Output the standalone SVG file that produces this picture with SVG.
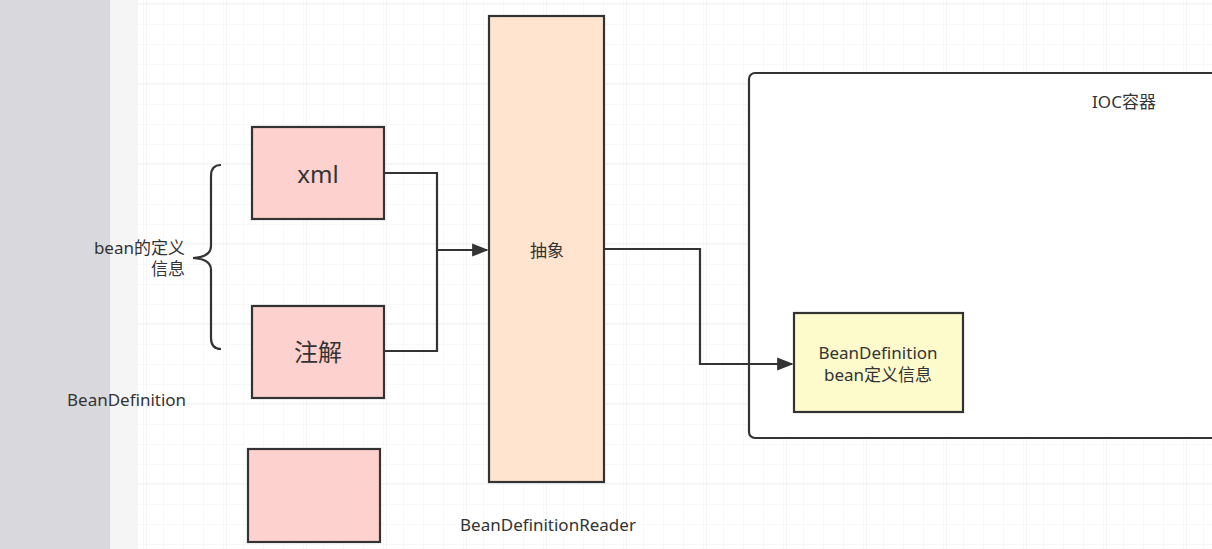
<svg xmlns="http://www.w3.org/2000/svg" width="1212" height="549" viewBox="0 0 1212 549">
  <style>
    .t { font-family: "Noto Sans", "Noto Sans CJK SC", sans-serif; fill: #333333; font-size: 17px; }
    .big { font-size: 24px; }
    .box { stroke: #333333; stroke-width: 2.2; }
    .edge { fill: none; stroke: #333333; stroke-width: 2.2; }
  </style>
  <defs>
    <pattern id="minor" x="4" y="5" width="20" height="20" patternUnits="userSpaceOnUse">
      <path d="M20 0 V20 M0 20 H20" fill="none" stroke="#f1f1f1" stroke-width="1"/>
    </pattern>
    <pattern id="major" x="67" y="4" width="80" height="80" patternUnits="userSpaceOnUse">
      <path d="M80 0 V80 M0 80 H80" fill="none" stroke="#e9e9e9" stroke-width="1"/>
    </pattern>
    <marker id="arrow" viewBox="0 0 10 10" refX="9" refY="5" markerWidth="7.5" markerHeight="7.5" markerUnits="strokeWidth" orient="auto">
      <path d="M0 1 L10 5 L0 9 Z" fill="#333333"/>
    </marker>
  </defs>

  <!-- background -->
  <rect x="0" y="0" width="1212" height="549" fill="#ffffff"/>
  <rect x="138" y="0" width="1074" height="549" fill="url(#minor)"/>
  <rect x="138" y="0" width="1074" height="549" fill="url(#major)"/>
  <rect x="0" y="0" width="110" height="549" fill="#d9d9dd"/>
  <rect x="110" y="0" width="28" height="549" fill="#f5f5f6"/>

  <!-- IOC container -->
  <g id="ioc">
    <rect x="749" y="73" width="480" height="365" rx="6" fill="#ffffff" class="box"/>
    <text class="t" x="1124" y="108" text-anchor="middle">IOC容器</text>
  </g>

  <!-- brace + labels -->
  <g id="brace">
    <path d="M221 165 Q211 165 211 176 V246 Q211 257 193 258 Q211 259 211 270 V338 Q211 349 221 349" fill="none" stroke="#333333" stroke-width="2.2"/>
    <text class="t" x="185" y="254" text-anchor="end">bean的定义</text>
    <text class="t" x="185" y="275" text-anchor="end">信息</text>
  </g>

  <g id="label-beandefinition">
    <text class="t" x="67" y="406">BeanDefinition</text>
  </g>

  <g id="xml">
    <rect x="252" y="127" width="132" height="92" fill="#fdd1cd" class="box"/>
    <text class="t big" x="318" y="183" text-anchor="middle">xml</text>
  </g>

  <g id="annotation">
    <rect x="252" y="306" width="132" height="92" fill="#fdd1cd" class="box"/>
    <text class="t big" x="318" y="361" text-anchor="middle">注解</text>
  </g>

  <g id="empty">
    <rect x="248" y="449" width="132" height="93" fill="#fdd1cd" class="box"/>
  </g>

  <g id="reader">
    <rect x="489" y="16" width="115" height="466" fill="#ffe5d0" class="box"/>
    <text class="t" x="547" y="257" text-anchor="middle">抽象</text>
    <text class="t" x="548" y="531" text-anchor="middle">BeanDefinitionReader</text>
  </g>

  <g id="beandef">
    <rect x="794" y="313" width="169" height="99" fill="#fdfacb" class="box"/>
    <text class="t" x="878" y="359" text-anchor="middle">BeanDefinition</text>
    <text class="t" x="878" y="381" text-anchor="middle">bean定义信息</text>
  </g>

  <g id="connectors">
    <path class="edge" d="M384 173 H437 V250 H487" marker-end="url(#arrow)"/>
    <path class="edge" d="M384 351 H437 V250"/>
    <path class="edge" d="M604 249 H700 V364 H792" marker-end="url(#arrow)"/>
  </g>
</svg>
